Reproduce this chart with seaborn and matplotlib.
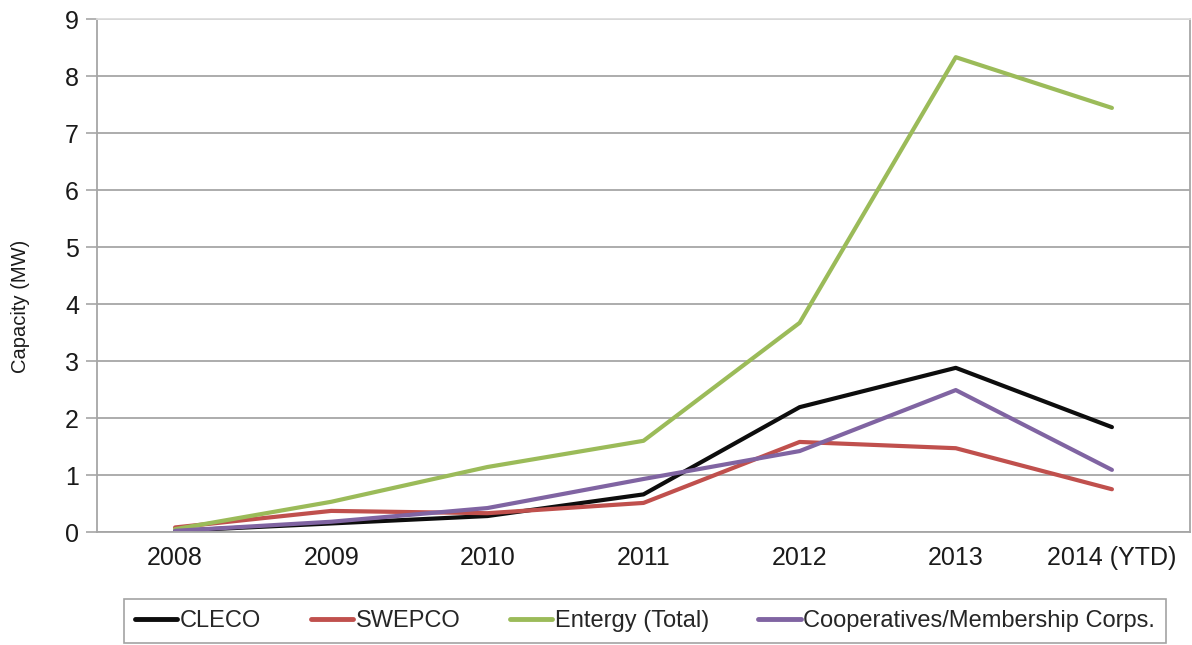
import matplotlib
matplotlib.use("Agg")
import matplotlib.pyplot as plt
from matplotlib.ticker import FixedLocator
import seaborn as sns
import pandas as pd

years = ["2008", "2009", "2010", "2011", "2012", "2013", "2014 (YTD)"]
cleco = [0.02, 0.15, 0.28, 0.66, 2.19, 2.88, 1.84]
swepco = [0.08, 0.37, 0.33, 0.51, 1.58, 1.47, 0.75]
entergy = [0.05, 0.53, 1.14, 1.60, 3.67, 8.33, 7.44]
coops = [0.02, 0.18, 0.42, 0.93, 1.42, 2.49, 1.09]

series_names = ["CLECO", "SWEPCO", "Entergy (Total)", "Cooperatives/Membership Corps."]
series_values = [cleco, swepco, entergy, coops]
colors = ["#0d0d0d", "#c0504d", "#9bbb59", "#8064a2"]

rows = []
for name, vals in zip(series_names, series_values):
    for i, v in enumerate(vals):
        rows.append({"pos": i, "year": years[i], "series": name, "value": v})
df = pd.DataFrame(rows)

sns.set_theme(style="white")
plt.rcParams["font.family"] = ["Liberation Sans", "DejaVu Sans"]

fig = plt.figure(figsize=(11.92, 6.45), dpi=100)
ax = fig.add_axes([97 / 1192, 1 - 532 / 645, (1190 - 97) / 1192, (532 - 19) / 645])

sns.lineplot(data=df, x="pos", y="value", hue="series", hue_order=series_names,
             palette=colors, linewidth=3, ax=ax, legend=False, sort=False)

grid_c = "#a6a6a6"
text_c = "#1a1a1a"
ax.set_xlim(-0.5, 6.5)
ax.set_ylim(0, 9)
ax.set_yticks(range(0, 10))
ax.yaxis.grid(True, color=grid_c, linewidth=1.3)
ax.xaxis.grid(False)
ax.set_xticks(range(len(years)))
ax.set_xticklabels(years)
ax.xaxis.set_minor_locator(FixedLocator([i + 0.5 for i in range(-1, len(years))]))
ax.tick_params(axis="x", which="major", length=0, labelsize=18, pad=10, labelcolor=text_c)
ax.tick_params(axis="x", which="minor", length=7, width=1.2, color=grid_c, direction="out")
ax.tick_params(axis="y", which="major", length=8, width=1.2, color=grid_c, labelsize=18,
               pad=5, labelcolor=text_c, left=True)
for s in ["left", "bottom", "right", "top"]:
    ax.spines[s].set_visible(True)
    ax.spines[s].set_color(grid_c)
    ax.spines[s].set_linewidth(1.3)
ax.spines["top"].set_color("#dddddd")
ax.set_xlabel("")
ax.set_ylabel("Capacity (MW)", fontsize=14.5, color=text_c)
ax.yaxis.set_label_coords(-0.061, (532 - 306) / 513)

handles = [plt.Line2D([], [], color=c, linewidth=3.5) for c in colors]
leg = fig.legend(handles, series_names, loc="center", ncol=4,
                 bbox_to_anchor=(645 / 1192, 1 - 621 / 645), frameon=True,
                 fontsize=17, handlelength=1.8, handletextpad=0.1, columnspacing=2.1,
                 fancybox=False, borderpad=0.45)
leg.get_frame().set_edgecolor("#8c8c8c")
leg.get_frame().set_linewidth(1.2)

fig.savefig("out.png", dpi=100, facecolor="white")
